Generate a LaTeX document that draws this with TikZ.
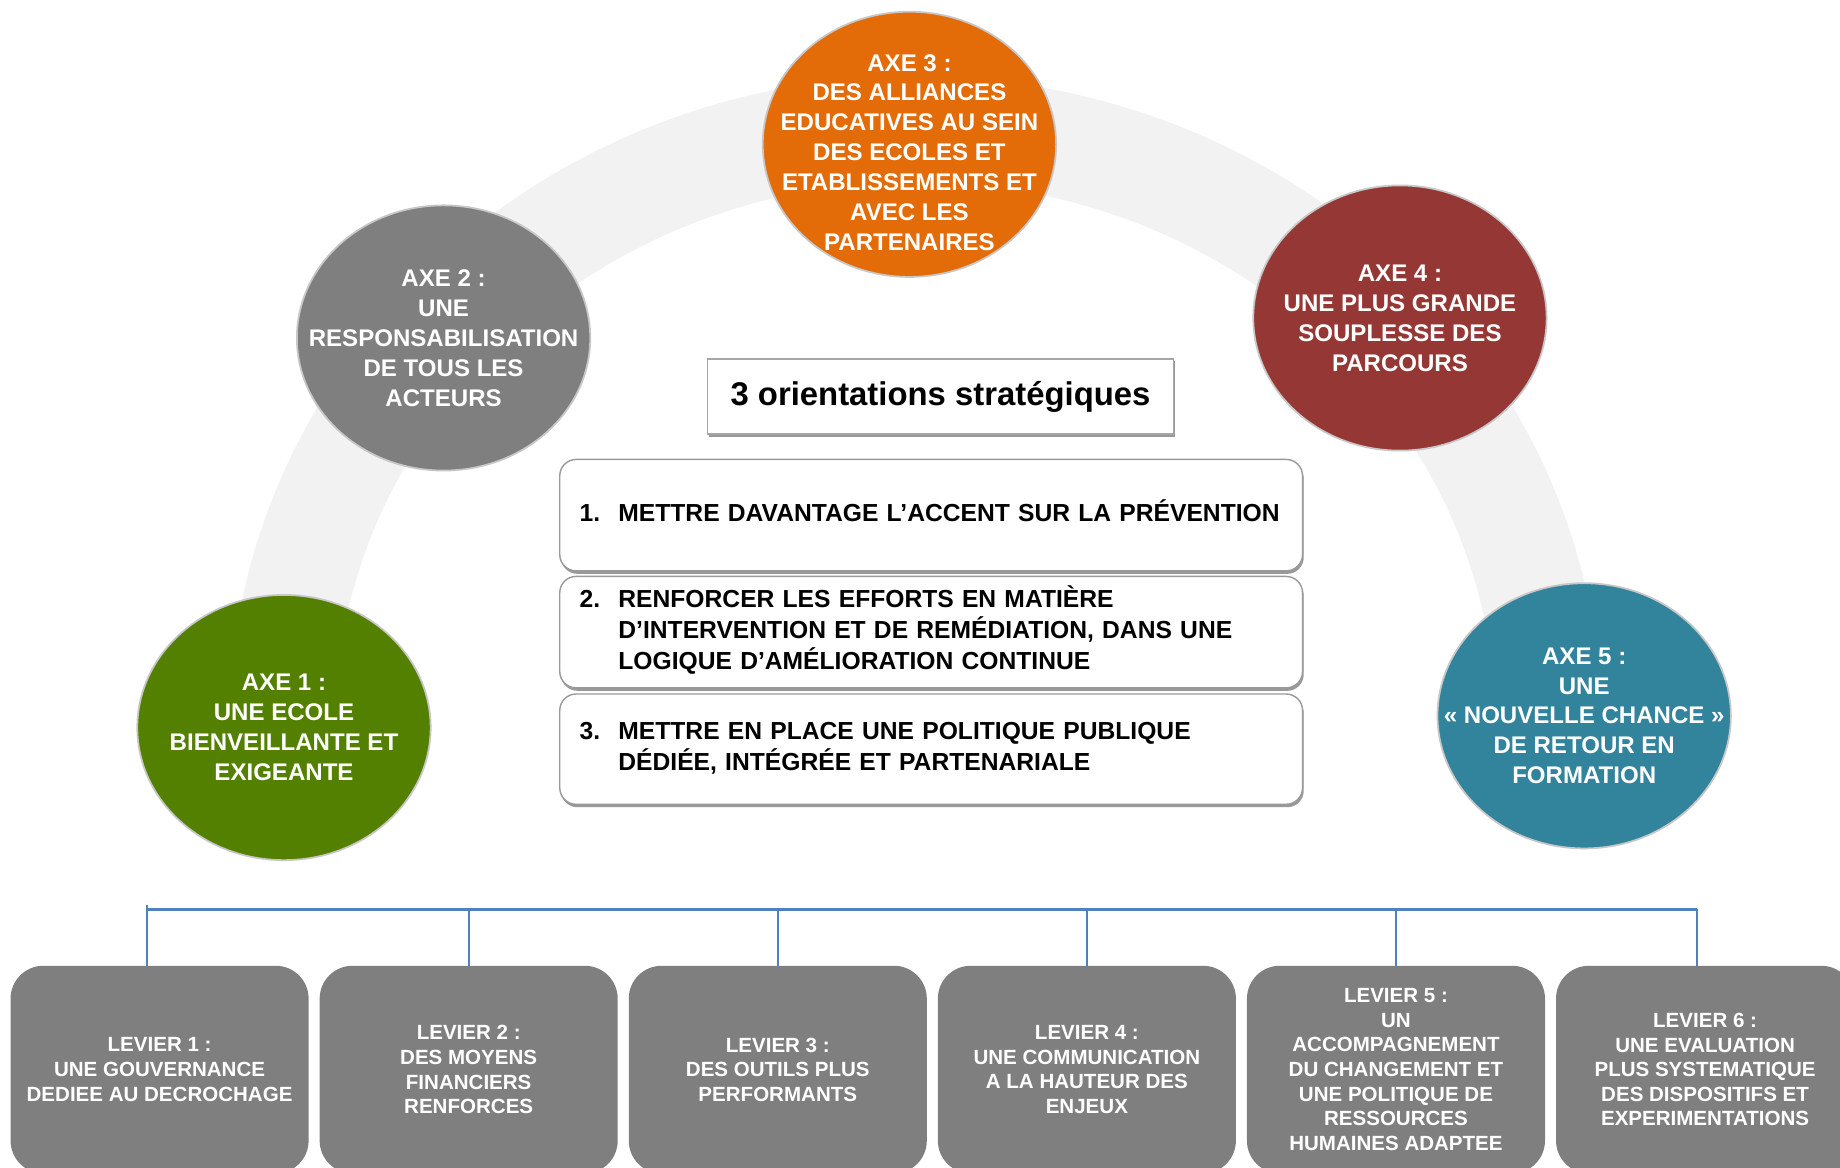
\documentclass[tikz,border=0pt]{standalone}
\usepackage{fontspec}
\setmainfont{Liberation Sans}
\usetikzlibrary{positioning,shapes.geometric,shadows}
\definecolor{axegreen}{HTML}{548000}
\definecolor{axegray}{HTML}{7F7F7F}
\definecolor{axeorange}{HTML}{E36C09}
\definecolor{axered}{HTML}{953735}
\definecolor{axeteal}{HTML}{31849B}
\definecolor{busblue}{HTML}{4F81BD}
\definecolor{bandgray}{HTML}{F2F2F2}
\tikzset{
  axe/.style={ellipse,draw=black!22,line width=1.5pt,minimum width=250pt,minimum height=226pt,inner sep=0pt},
  axetext/.style={align=center,text=white,font=\fontsize{20.5}{25.5}\selectfont\bfseries},
  orient/.style={draw=black!40,fill=white,line width=1.2pt,rounded corners=14pt,
    minimum width=633pt,text width=599pt,align=left,inner xsep=17pt,
    drop shadow={shadow xshift=1pt,shadow yshift=-2.5pt,fill=black!40,opacity=1},
    font=\fontsize{21}{25.5}\selectfont\bfseries},
  titlebox/.style={draw=black!35,fill=white,line width=1.2pt,minimum width=397pt,minimum height=64pt,
    drop shadow={shadow xshift=1pt,shadow yshift=-2pt,fill=black!40,opacity=1},
    font=\fontsize{28}{32}\selectfont\bfseries},
  levier/.style={fill=axegray,rounded corners=28pt,minimum width=254pt,minimum height=177pt,
    align=center,text=white,font=\fontsize{17.5}{21}\selectfont\bfseries},
  bus/.style={draw=busblue,line width=2pt}
}

\begin{document}
\begin{tikzpicture}[x=1pt,y=-1pt]
\useasboundingbox (0,0) rectangle (1568,995);
% background band
\draw[bandgray,line width=90pt] (780,620) ++(188:540 and 510) arc[start angle=188,end angle=352,x radius=540,y radius=510];
% axes
\node[axe,fill=axegreen] (axe1) at (242,620) {};
\node[axetext] (axe1t) at (axe1) {AXE 1 :\\UNE ECOLE\\BIENVEILLANTE ET\\EXIGEANTE};
\node[axe,fill=axegray] (axe2) at (378,288) {};
\node[axetext] (axe2t) at (axe2) {AXE 2 :\\UNE\\RESPONSABILISATION\\DE TOUS LES\\ACTEURS};
\node[axe,fill=axeorange] (axe3) at (775,123) {};
\node[axetext,yshift=-7pt] (axe3t) at (axe3) {AXE 3 :\\DES ALLIANCES\\EDUCATIVES AU SEIN\\DES ECOLES ET\\ETABLISSEMENTS ET\\AVEC LES\\PARTENAIRES};
\node[axe,fill=axered] (axe4) at (1193,271) {};
\node[axetext] (axe4t) at (axe4) {AXE 4 :\\UNE PLUS GRANDE\\SOUPLESSE DES\\PARCOURS};
\node[axe,fill=axeteal] (axe5) at (1350,610) {};
\node[axetext] (axe5t) at (axe5) {AXE 5 :\\UNE\\« NOUVELLE CHANCE »\\DE RETOUR EN\\FORMATION};
% orientations
\node[titlebox] (title) at (801.5,338) {3 orientations stratégiques};
\node[orient,minimum height=95pt] (o1) at (793.5,439) {\begin{tabular}{@{}p{33pt}@{}l@{}}1. & METTRE DAVANTAGE L’ACCENT SUR LA PRÉVENTION\end{tabular}};
\node[orient,minimum height=95pt,below=3.5pt of o1] (o2) {\begin{tabular}{@{}p{33pt}@{}l@{}}2. & RENFORCER LES EFFORTS EN MATIÈRE\\ & D’INTERVENTION ET DE REMÉDIATION, DANS UNE\\ & LOGIQUE D’AMÉLIORATION CONTINUE\end{tabular}};
\node[orient,minimum height=94pt,below=4pt of o2] (o3) {\begin{tabular}{@{}p{33pt}@{}l@{}}3. & METTRE EN PLACE UNE POLITIQUE PUBLIQUE\\ & DÉDIÉE, INTÉGRÉE ET PARTENARIALE\end{tabular}};
% leviers
\node[levier] (lev1) at (136,911.5) {LEVIER 1 :\\UNE GOUVERNANCE\\DEDIEE AU DECROCHAGE};
\node[levier,right=9pt of lev1] (lev2) {LEVIER 2 :\\DES MOYENS\\FINANCIERS\\RENFORCES};
\node[levier,right=9pt of lev2] (lev3) {LEVIER 3 :\\DES OUTILS PLUS\\PERFORMANTS};
\node[levier,right=9pt of lev3] (lev4) {LEVIER 4 :\\UNE COMMUNICATION\\A LA HAUTEUR DES\\ENJEUX};
\node[levier,right=9pt of lev4] (lev5) {LEVIER 5 :\\UN\\ACCOMPAGNEMENT\\DU CHANGEMENT ET\\UNE POLITIQUE DE\\RESSOURCES\\HUMAINES ADAPTEE};
\node[levier,right=9pt of lev5] (lev6) {LEVIER 6 :\\UNE EVALUATION\\PLUS SYSTEMATIQUE\\DES DISPOSITIFS ET\\EXPERIMENTATIONS};
% bus
\coordinate (busL) at (125,775);
\coordinate (busR) at (1446,775);
\draw[bus] ([yshift=4pt]busL) -- (lev1.north -| busL);
\draw[bus] (busL) -- (busR);
\draw[bus] (lev2.north |- busL) -- (lev2.north);
\draw[bus] (lev3.north |- busL) -- (lev3.north);
\draw[bus] (lev4.north |- busL) -- (lev4.north);
\draw[bus] (lev5.north |- busL) -- (lev5.north);
\draw[bus] (busR) -- (lev6.north -| busR);
\end{tikzpicture}
\end{document}
